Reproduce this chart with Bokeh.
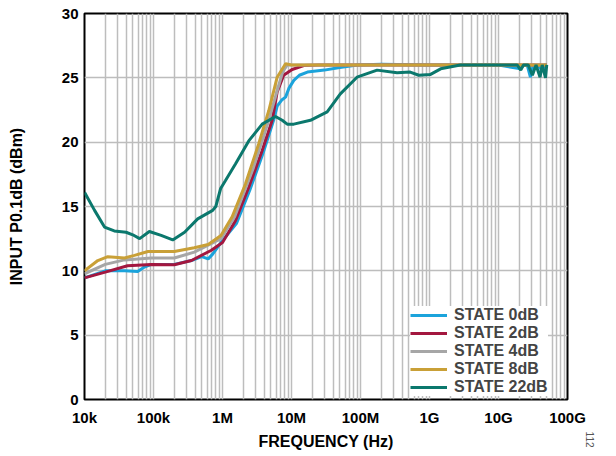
from bokeh.plotting import figure
from bokeh.models import FixedTicker, Legend, LegendItem, Title
from bokeh.embed import file_html
from bokeh.resources import INLINE

# ---- data ----
f_0 = [1e4, 2e4, 3.8e4, 5.9e4, 7.4e4, 9.3e4, 2e5, 3.55e5, 5e5, 6.2e5, 7.2e5, 9.5e5,
       1.6e6, 2.5e6, 3.9e6, 5.5e6, 6.2e6, 7.3e6, 8.2e6, 9.2e6, 1.08e7, 1.3e7, 1.7e7,
       3e7, 5e7, 9e7, 2e8, 1e9, 1e10, 2.1e10, 2.3e10, 2.6e10, 2.9e10, 3.2e10, 3.8e10,
       4.3e10, 4.7e10, 5e10]
y_0 = [9.45, 10.0, 10.0, 9.95, 10.3, 10.5, 10.5, 10.8, 11.1, 10.93, 11.3, 12.2,
       13.7, 16.3, 19.2, 21.7, 22.8, 23.3, 23.5, 24.2, 24.8, 25.2, 25.45,
       25.6, 25.8, 26.0, 26.05, 26.0, 26.0, 25.7, 26.0, 26.0, 25.05, 26.0, 25.9,
       25.6, 26.0, 26.0]

f_2 = [1e4, 2e4, 4.2e4, 9.3e4, 2e5, 3.55e5, 6.9e5, 1.0e6, 1.54e6, 2.4e6, 3.76e6,
       5.25e6, 6.2e6, 7.7e6, 1.02e7, 1.51e7, 2.5e7, 5e7, 1e8, 1e9, 1e10, 5e10]
y_2 = [9.45, 9.9, 10.4, 10.5, 10.47, 10.8, 11.6, 12.2, 13.9, 16.5, 19.35,
       21.7, 23.9, 25.2, 25.65, 25.95, 26.0, 26.0, 26.0, 26.0, 26.0, 26.0]

f_4 = [1e4, 2e4, 3.8e4, 9.3e4, 2e5, 3.9e5, 6.2e5, 9.5e5, 1.5e6, 2.8e6, 4.5e6,
       6.6e6, 7.5e6, 8.7e6, 1e7, 1e8, 1e9, 1e10, 5e10]
y_4 = [9.77, 10.5, 10.85, 11.0, 11.0, 11.45, 12.0, 12.5, 14.2, 18.0, 21.4,
       24.5, 25.5, 26.0, 26.0, 26.0, 26.0, 26.0, 26.0]

f_8 = [1e4, 1.56e4, 2.18e4, 3.8e4, 5.3e4, 8.3e4, 2e5, 3.9e5, 6.2e5, 9.5e5, 1.38e6,
       2.15e6, 3.36e6, 4.69e6, 6.2e6, 8.2e6, 1e7, 1e8, 1e9, 1e10, 5e10]
y_8 = [10.0, 10.8, 11.1, 11.0, 11.2, 11.5, 11.5, 11.8, 12.05, 12.75, 14.2,
       16.75, 19.9, 22.46, 25.05, 26.1, 26.0, 26.0, 26.0, 26.0, 26.0]

f_22 = [1e4, 1.4e4, 1.95e4, 2.7e4, 4e4, 5e4, 6.3e4, 8.7e4, 1.29e5, 1.9e5, 2.82e5,
        4.37e5, 7.2e5, 8e5, 9.4e5, 1.1e6, 1.54e6, 2.4e6, 3.76e6, 5.86e6, 7.33e6,
        8.67e6, 1.08e7, 1.88e7, 3.29e7, 5.1e7, 8.9e7, 1.74e8, 3.39e8, 5.25e8, 7e8,
        1.02e9, 1.45e9, 2.8e9, 1.87e10, 2.1e10, 2.3e10, 2.7e10, 3.1e10, 3.5e10,
        4e10, 4.3e10, 4.8e10, 5e10]
y_22 = [16.1, 14.7, 13.4, 13.1, 13.0, 12.8, 12.5, 13.06, 12.75, 12.4, 13.0,
        14.04, 14.7, 15.0, 16.4, 17.0, 18.3, 20.1, 21.4, 22.0, 21.7,
        21.4, 21.4, 21.7, 22.35, 23.75, 25.05, 25.6, 25.4, 25.45, 25.2,
        25.25, 25.7, 26.0, 26.0, 25.6, 26.0, 26.0, 25.2, 26.0,
        25.05, 26.0, 25.0, 26.0]

series = [
    ("STATE 0dB", f_0, y_0, "#1ba3db"),
    ("STATE 2dB", f_2, y_2, "#a3173f"),
    ("STATE 4dB", f_4, y_4, "#a6a6a6"),
    ("STATE 8dB", f_8, y_8, "#c9a037"),
    ("STATE 22dB", f_22, y_22, "#0b786d"),
]

x_ticks = [1e4, 1e5, 1e6, 1e7, 1e8, 1e9, 1e10, 1e11]
x_tick_labels = ["10k", "100k", "1M", "10M", "100M", "1G", "10G", "100G"]
y_ticks = [0, 5, 10, 15, 20, 25, 30]

FONT = "Liberation Sans"
GRID = "#bdbdbd"

p = figure(width=616, height=456, x_axis_type="log", x_range=(1e4, 1e11),
           y_range=(0, 30), output_backend="svg", toolbar_location=None,
           min_border_left=84, min_border_right=49, min_border_top=13,
           min_border_bottom=57)
p.background_fill_color = "white"
p.border_fill_color = "white"
p.outline_line_color = "black"
p.outline_line_width = 2

minor = [k * 10 ** e for e in range(4, 11) for k in range(2, 10)]
p.xaxis.ticker = FixedTicker(ticks=x_ticks, minor_ticks=minor)
p.xaxis.major_label_overrides = {t: l for t, l in zip(x_ticks, x_tick_labels)}
p.yaxis.ticker = FixedTicker(ticks=y_ticks)

for ax in (p.xaxis, p.yaxis):
    ax.axis_line_color = None
    ax.major_tick_line_color = None
    ax.minor_tick_line_color = None
    ax.major_tick_out = 0
    ax.major_tick_in = 0
    ax.minor_tick_out = 0
    ax.minor_tick_in = 0
    ax.major_label_text_font = FONT
    ax.major_label_text_font_style = "bold"
    ax.major_label_text_font_size = "15px"
    ax.major_label_text_color = "black"
    ax.axis_label_text_font = FONT
    ax.axis_label_text_font_style = "bold"
    ax.axis_label_text_font_size = "16px"
    ax.axis_label_text_color = "black"

p.xaxis.axis_label = "FREQUENCY (Hz)"
p.yaxis.axis_label = "INPUT P0.1dB (dBm)"
p.xaxis.major_label_standoff = 9
p.yaxis.major_label_standoff = 6
p.xaxis.axis_label_standoff = 4
p.yaxis.axis_label_standoff = 34

p.xgrid.grid_line_color = GRID
p.xgrid.grid_line_width = 1.5
p.xgrid.minor_grid_line_color = GRID
p.xgrid.minor_grid_line_width = 1.5
p.ygrid.grid_line_color = GRID
p.ygrid.grid_line_width = 1.5

items = []
for name, fx, fy, col in series:
    r = p.line(fx, fy, line_color=col, line_width=3)
    items.append(LegendItem(label=name, renderers=[r]))

legend = Legend(items=items, location=(326, 3))
legend.label_text_font = FONT
legend.label_text_font_style = "bold"
legend.label_text_font_size = "16px"
legend.label_height = 14
legend.glyph_height = 14
legend.glyph_width = 37
legend.label_standoff = 7
legend.spacing = -2
legend.padding = 8
legend.margin = 0
legend.border_line_color = None
legend.background_fill_color = "white"
legend.background_fill_alpha = 1
p.add_layout(legend)

note = Title(text="112", align="right", offset=-48, standoff=36,
             text_font=FONT, text_font_size="10px", text_font_style="normal",
             text_color="#555555")
p.add_layout(note, "right")

open("out.html", "w").write(file_html(p, INLINE))
